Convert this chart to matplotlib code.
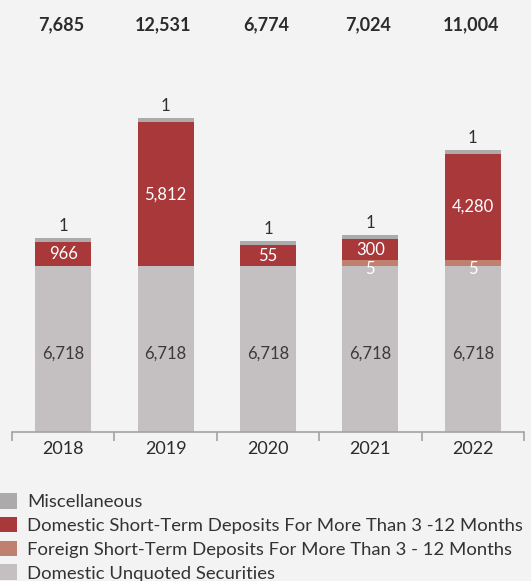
import numpy as np
import matplotlib
matplotlib.use("Agg")
import matplotlib.pyplot as plt
from matplotlib.transforms import blended_transform_factory
from matplotlib.patches import Patch

years = ["2018", "2019", "2020", "2021", "2022"]
unquoted = [6718, 6718, 6718, 6718, 6718]
foreign_dep = [0, 0, 0, 5, 5]
domestic_dep = [966, 5812, 55, 300, 4280]
misc = [1, 1, 1, 1, 1]
totals = [7685, 12531, 6774, 7024, 11004]

series_names = ["Domestic Unquoted Securities",
                "Foreign Short-Term Deposits For More Than 3 - 12 Months",
                "Domestic Short-Term Deposits For More Than 3 -12 Months",
                "Miscellaneous"]
colors = ["#c4c0c1", "#c0806f", "#a8383a", "#acaaab"]
label_colors = ["#3a3a3a", "white", "white", "#2f2f2f"]
# minimum visible segment height (data units) so tiny segments stay visible
min_visible = [0, 243, 830, 162]

BG = "#f3f3f3"
W, H = 531, 581
plt.rcParams["font.family"] = ["Lato", "DejaVu Sans"]
fig = plt.figure(figsize=(W / 100, H / 100), dpi=100, facecolor=BG)

ax_left, ax_right = 12, 524
ax_bottom, ax_top = 432, 60
ax = fig.add_axes([ax_left / W, 1 - ax_bottom / H, (ax_right - ax_left) / W,
                   (ax_bottom - ax_top) / H])
ax.set_facecolor(BG)
px_per_unit = 166 / 6718
ax.set_ylim(0, (ax_bottom - ax_top) / px_per_unit)
ax.set_xlim(-0.5, len(years) - 0.5)

x = np.arange(len(years))
width = 0.547
bottom = np.zeros(len(years))
all_series = [unquoted, foreign_dep, domestic_dep, misc]
for vals, col, lc, mv, name in zip(all_series, colors, label_colors, min_visible, series_names):
    vals = np.array(vals, dtype=float)
    shown = np.where(vals > 0, np.maximum(vals, mv), 0)
    ax.bar(x, shown, width, bottom=bottom, color=col, label=name, linewidth=0)
    for i, (v, s, b) in enumerate(zip(vals, shown, bottom)):
        if v <= 0:
            continue
        if name == "Miscellaneous":
            ax.annotate(f"{int(v):,}", (x[i], b + s), xytext=(0, 3),
                        textcoords="offset points", ha="center", va="bottom",
                        fontsize=12, color=lc)
        elif name == "Domestic Unquoted Securities":
            ax.text(x[i], b + s * 0.475, f"{int(v):,}", ha="center", va="center",
                    fontsize=12, color=lc)
        elif name.startswith("Foreign"):
            ax.annotate(f"{int(v):,}", (x[i], b), xytext=(0, -2.5),
                        textcoords="offset points", ha="center", va="center",
                        fontsize=12, color=lc)
        else:
            ax.text(x[i], b + s / 2, f"{int(v):,}", ha="center", va="center",
                    fontsize=12, color=lc)
    bottom += shown

trans = blended_transform_factory(ax.transData, fig.transFigure)
for i, t in enumerate(totals):
    ax.text(x[i] - 0.02, 1 - 25 / H, f"{t:,}", transform=trans, ha="center",
            va="center", fontsize=13, fontweight="bold", color="#2b2b2b")

for s in ["top", "right", "left"]:
    ax.spines[s].set_visible(False)
ax.spines["bottom"].set_color("#a3a3a3")
ax.spines["bottom"].set_linewidth(1.2)
ax.set_yticks([])
ax.set_xticks(x)
ax.set_xticklabels(years, fontsize=13, color="#2b2b2b")
ax.tick_params(axis="x", which="major", length=0, pad=6.5)
ax.set_xticks(np.arange(-0.5, len(years)), minor=True)
ax.tick_params(axis="x", which="minor", length=6.5, width=1.2, color="#a3a3a3")

handles = [Patch(facecolor=colors[3]), Patch(facecolor=colors[2]),
           Patch(facecolor=colors[1]), Patch(facecolor=colors[0])]
labels = [series_names[3], series_names[2], series_names[1], series_names[0]]
fig.legend(handles, labels, loc="upper left", bbox_to_anchor=(0.0, 1 - 493 / H),
           frameon=False, fontsize=13.3, labelcolor="#333333",
           handlelength=0.92, handleheight=0.92, handletextpad=0.55,
           labelspacing=0.36, borderaxespad=0, borderpad=0)

fig.savefig("out.png", dpi=100, facecolor=BG)
